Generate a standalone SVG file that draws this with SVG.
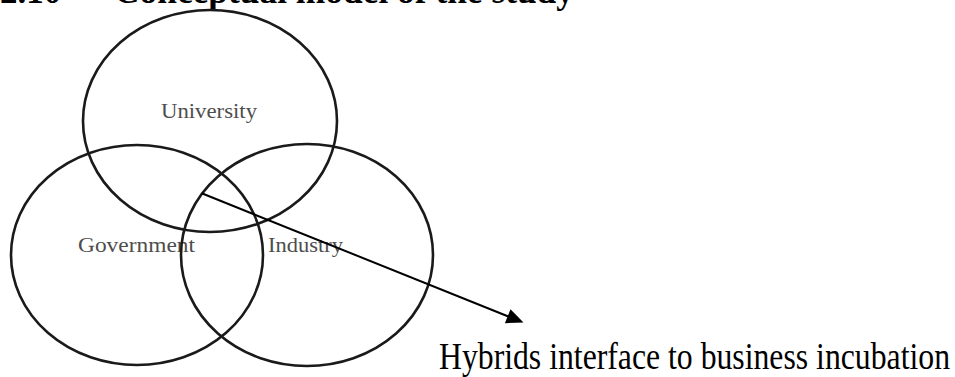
<svg xmlns="http://www.w3.org/2000/svg" width="955" height="377" viewBox="0 0 955 377">
<style>
.ring{fill:none;stroke:#1a1a1a;stroke-width:2.6}
.lbl{font-family:"Liberation Serif","Times New Roman",serif;font-size:21px;fill:#4d4d4d}
.cap{font-family:"Liberation Serif","Times New Roman",serif;font-size:38px;fill:#000}
.title{font-family:"Liberation Serif","Times New Roman",serif;font-size:35px;font-weight:bold;fill:#000}
.conn{stroke:#000;stroke-width:2;fill:none}
</style>
<rect width="955" height="377" fill="#fff"/>
<text class="title" x="0" y="3">2.10</text>
<text class="title" x="114" y="3" textLength="460" lengthAdjust="spacingAndGlyphs">Conceptual model of the study</text>
<g id="university">
<ellipse class="ring" cx="210" cy="121" rx="127" ry="111"/>
<text class="lbl" x="161" y="118" textLength="96" lengthAdjust="spacingAndGlyphs">University</text>
</g>
<g id="government">
<ellipse class="ring" cx="137" cy="255" rx="126" ry="110"/>
<text class="lbl" x="78" y="252" textLength="117" lengthAdjust="spacingAndGlyphs">Government</text>
</g>
<g id="industry">
<ellipse class="ring" cx="307" cy="255" rx="126" ry="111"/>
<text class="lbl" x="268" y="252" textLength="75" lengthAdjust="spacingAndGlyphs">Industry</text>
</g>
<g id="connectors">
<line class="conn" x1="201.7" y1="193.3" x2="509" y2="316.7"/>
<polygon points="523.5,322.5 504.9,323.2 510.5,309.2" fill="#000"/>
</g>
<g id="hybrids">
<text class="cap" x="439" y="369" textLength="511" lengthAdjust="spacingAndGlyphs">Hybrids interface to business incubation</text>
</g>
</svg>
